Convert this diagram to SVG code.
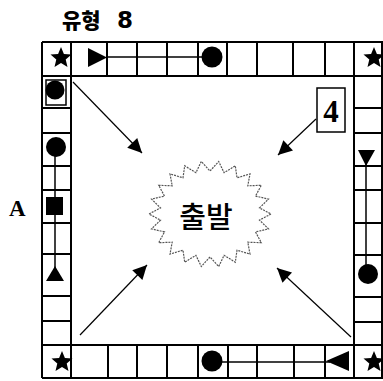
<svg xmlns="http://www.w3.org/2000/svg" width="383" height="381" viewBox="0 0 383 381">
<style>
.grid{fill:none;stroke:#000;stroke-width:2}
.thin{fill:none;stroke:#000;stroke-width:1.5}
.fill{fill:#000;stroke:none}
.arrow{fill:none;stroke:#000;stroke-width:1.2;marker-end:url(#ah)}
.burst{fill:#fff;stroke:#555;stroke-width:1.2;stroke-dasharray:2 1}
</style>
<defs>
<marker id="ah" viewBox="0 0 10 10" refX="10" refY="5" markerWidth="17" markerHeight="14" markerUnits="userSpaceOnUse" orient="auto">
<path d="M0,0 L10,5 L0,10 z" fill="#000"/>
</marker>
<polygon id="star" points="0,-11 2.9,-4 10.5,-3.4 4.7,1.5 6.5,9 0,5 -6.5,9 -4.7,1.5 -10.5,-3.4 -2.9,-4"/>
</defs>
<rect width="383" height="381" fill="#fff"/>
<g id="title"><text x="62" y="28" font-family="'Noto Sans CJK KR', sans-serif" font-weight="900" font-size="21">유형<tspan x="117" font-family="'DejaVu Sans', sans-serif" font-weight="bold" font-size="23">8</tspan></text></g>
<g id="label-A"><text x="9" y="216" font-family="'Liberation Serif', serif" font-weight="bold" font-size="23">A</text></g>
<g id="board">
<path class="grid" d="M42,42 H383 M42,76 H383 M42,345 H383 M42,378 H383 M42,42 V378 M71,42 V378 M354,42 V378 M382,42 V378"/>
<path class="grid" d="M107,42 V76 M137,42 V76 M167,42 V76 M198,42 V76 M227,42 V76 M257,42 V76 M293,42 V76 M325,42 V76"/>
<path class="grid" d="M108,345 V378 M137,345 V378 M167,345 V378 M198,345 V378 M228,345 V378 M257,345 V378 M294,345 V378 M325,345 V378"/>
<path class="grid" d="M42,108 H71 M42,133 H71 M42,166 H71 M42,190 H71 M42,223 H71 M42,254 H71 M42,296 H71 M42,321 H71"/>
<path class="grid" d="M354,108 H383 M354,133 H383 M354,166 H383 M354,190 H383 M354,223 H383 M354,255 H383 M354,297 H383 M354,322 H383"/>
</g>
<g id="corner-stars">
<use href="#star" x="61" y="58"/>
<use href="#star" x="374" y="58"/>
<use href="#star" x="62" y="362"/>
<use href="#star" x="374" y="362"/>
</g>
<g id="top-pieces">
<path class="thin" d="M107,57 H202"/>
<polygon class="fill" points="88,48 88,67 107,57.5"/>
<circle class="fill" cx="212" cy="57" r="10.5"/>
</g>
<g id="left-pieces">
<rect x="46" y="80" width="20" height="25" fill="none" stroke="#000" stroke-width="1.5"/>
<circle class="fill" cx="55" cy="90" r="9.5"/>
<path class="thin" d="M55,150 V268"/>
<circle class="fill" cx="56" cy="147" r="10"/>
<rect class="fill" x="46" y="197" width="17" height="18"/>
<polygon class="fill" points="55,266 46,281 64,281"/>
</g>
<g id="right-pieces">
<path class="thin" d="M366,160 V268"/>
<polygon class="fill" points="358,150 375,150 366,166"/>
<circle class="fill" cx="368" cy="274" r="10"/>
</g>
<g id="bottom-pieces">
<path class="thin" d="M215,362 H330"/>
<circle class="fill" cx="212" cy="361" r="10.5"/>
<polygon class="fill" points="349,351 349,371 326,361"/>
</g>
<g id="start">
<polygon class="burst" points="271,214 259.5,220.1 268.5,228.9 255.5,231.9 261.3,242.7 247.8,242.2 250,254.1 237,250.2 235.3,262.2 224.1,255.3 218.7,266.5 210,257 201.3,266.5 195.9,255.3 184.7,262.2 183,250.2 170,254.1 172.2,242.2 158.7,242.7 164.5,231.9 151.5,228.9 160.5,220.1 149,214 160.5,207.9 151.5,199.1 164.5,196.1 158.7,185.3 172.2,185.8 170,173.9 183,177.8 184.7,165.8 195.9,172.7 201.3,161.5 210,171 218.7,161.5 224.1,172.7 235.3,165.8 237,177.8 250,173.9 247.8,185.8 261.3,185.3 255.5,196.1 268.5,199.1 259.5,207.9"/>
<text x="206" y="228" text-anchor="middle" font-family="'Noto Sans CJK KR', sans-serif" font-weight="500" font-size="29">출발</text>
</g>
<g id="box-4">
<rect x="317" y="88" width="28" height="44" fill="#fff" stroke="#000" stroke-width="1.5"/>
<text x="331" y="122" text-anchor="middle" font-family="'Liberation Serif', serif" font-weight="bold" font-size="31">4</text>
</g>
<g id="connectors">
<line class="arrow" x1="73" y1="82" x2="142" y2="153"/>
<line class="arrow" x1="316" y1="119" x2="278" y2="155"/>
<line class="arrow" x1="80" y1="335" x2="147" y2="265"/>
<line class="arrow" x1="351" y1="337" x2="277" y2="268"/>
</g>
</svg>
